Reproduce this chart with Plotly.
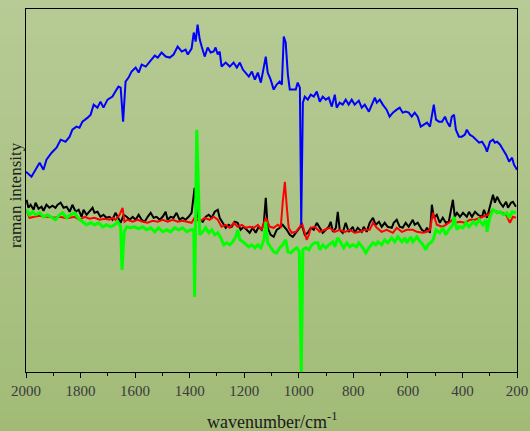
import plotly.graph_objects as go

# ---------------- data (wavenumber in cm^-1, intensity in a.u.) ----------------
blue_x = [2000,1980,1950,1936,1925,1906,1888,1873,1855,1840,1830,1815,1804,1793,1774,1763,1752,1738,1727,1716,
          1701,1683,1668,1661,1653,1644,1635,1624,1613,1598,1587,1576,1561,1550,1539,1528,1517,1503,1488,1473,
          1459,1444,1429,1415,1407,1393,1385,1378,1371,1363,1356,1345,1334,1323,1312,1305,1297,1290,1283,1268,
          1253,1239,1227,1216,1205,1194,1183,1172,1161,1150,1139,1132,1121,1114,1103,1092,1081,1070,1062,1055,
          1048,1040,1033,1022,1011,1004,996,991,985,978,967,956,945,934,923,912,901,890,879,868,861,850,839,828,
          817,806,795,780,769,758,743,732,721,714,703,692,678,667,655,641,630,619,608,597,586,575,564,553,541,
          530,519,512,505,497,486,475,464,457,446,439,431,424,413,402,391,384,373,361,350,339,328,317,310,299,
          288,281,273,262,251,240,229,218,211,204,200]
blue_y = [200,195,209,202,212,219,224,232,230,235,242,245,244,250,254,257,267,264,270,264,
          272,275,282,285,284,250,290,294,300,304,299,307,305,309,312,316,314,319,315,314,
          317,325,320,322,317,323,339,330,347,332,325,315,324,319,320,324,317,320,305,309,
          305,309,304,309,302,299,295,300,292,299,289,299,315,299,292,282,287,290,287,335,
          329,297,282,282,282,289,284,147,269,275,272,277,275,280,270,275,272,274,265,277,264,269,267,272,
          267,272,267,271,264,267,260,267,274,269,272,267,262,255,259,262,264,259,260,259,255,259,255,245,247,
          249,245,255,267,252,250,250,255,250,245,255,257,242,235,235,237,242,237,235,232,229,230,225,220,230,
          232,229,230,227,222,217,210,214,207,204,202]

black_x = [1998,1991,1983,1972,1965,1954,1943,1936,1925,1914,1903,1892,1884,1873,1862,1851,1840,1830,1818,1807,
           1796,1789,1778,1767,1756,1749,1738,1727,1716,1705,1694,1683,1672,1664,1653,1642,1631,1620,1609,1598,
           1587,1576,1565,1554,1543,1532,1521,1510,1499,1488,1481,1470,1459,1448,1437,1426,1415,1404,1393,1382,
           1374,1363,1352,1341,1330,1319,1308,1297,1290,1279,1268,1257,1246,1235,1224,1213,1202,1191,1180,1169,
           1158,1147,1136,1128,1121,1114,1103,1092,1081,1070,1059,1044,1033,1022,1011,1000,989,978,967,956,945,
           934,923,912,901,890,883,875,864,857,850,839,828,817,802,795,784,769,762,751,740,728,718,706,696,685,
           674,659,652,641,630,619,608,597,582,575,564,549,538,530,519,512,505,494,483,472,461,450,435,428,420,
           409,398,384,376,365,354,343,328,321,310,299,288,281,273,262,251,240,233,222,215,204]
black_y = [172,164,167,162,169,163,165,161,167,164,166,164,167,169,164,165,160,167,160,162,
           155,162,157,160,164,159,160,155,157,154,155,152,159,155,149,157,155,152,155,152,
           157,152,150,155,159,154,155,152,155,160,152,155,154,159,152,154,152,155,159,184,
           157,152,150,155,157,154,160,162,154,149,144,147,145,150,149,142,145,142,139,144,
           139,145,142,149,174,144,137,135,142,144,147,142,137,135,139,144,147,137,139,144,142,
           149,144,139,142,145,150,140,144,160,142,139,149,140,145,139,144,140,145,140,149,154,147,150,145,149,
           145,144,149,152,145,144,149,145,152,147,149,142,140,144,139,167,154,157,149,154,149,150,172,155,159,
           155,159,155,160,155,160,157,155,162,154,165,177,169,175,169,165,170,164,169,170,165]

red_x = [1998,1987,1969,1950,1932,1914,1895,1877,1859,1840,1822,1804,1785,1767,1749,1730,1712,1694,1683,1672,
         1657,1646,1639,1628,1609,1591,1572,1554,1536,1517,1499,1481,1462,1444,1426,1407,1393,1382,1363,1345,
         1327,1312,1297,1283,1268,1253,1239,1224,1209,1194,1180,1165,1150,1136,1121,1106,1092,1077,1066,1059,
         1051,1044,1037,1026,1011,996,989,978,971,963,956,941,923,905,886,868,850,831,813,795,776,758,740,728,
         714,696,678,655,641,622,604,582,567,545,530,519,508,494,475,461,446,435,428,409,391,373,354,336,321,
         306,288,273,255,240,226,215,204]
red_y = [162,154,155,156,155,155,154,155,154,154,155,152,155,153,154,152,153,152,154,152,
         157,164,150,152,150,152,150,149,151,150,152,150,152,150,151,150,149,154,150,154,
         152,155,152,145,147,144,149,145,147,144,145,144,147,142,154,145,144,147,145,169,
         190,165,144,139,140,145,149,139,132,137,144,145,140,142,144,140,142,140,142,139,140,142,142,149,
         144,140,142,139,144,140,142,142,140,139,140,142,159,147,145,147,150,152,149,150,149,152,152,154,155,
         157,162,160,159,157,149,155,154]

green_x = [1998,1987,1976,1965,1950,1936,1921,1906,1892,1877,1866,1851,1837,1822,1807,1793,1778,1763,1749,1734,
           1719,1705,1690,1675,1664,1653,1648,1640,1631,1617,1602,1587,1572,1558,1543,1528,1514,1499,1484,1470,
           1455,1440,1426,1411,1396,1385,1382,1374,1367,1363,1352,1341,1330,1319,1308,1297,1286,1275,1264,1253,
           1242,1231,1224,1216,1205,1194,1183,1172,1161,1150,1139,1128,1121,1114,1103,1092,1081,1070,1059,1048,
           1040,1029,1018,1007,998,991,985,974,963,952,941,930,923,912,901,890,875,868,857,842,835,824,813,802,
           788,780,765,754,743,728,718,710,696,685,674,659,648,637,622,611,604,589,582,567,560,545,534,527,512,
           505,497,483,472,461,450,435,431,420,413,398,387,376,361,350,339,325,314,310,299,288,273,262,251,237,
           229,218,204]
green_y = [162,157,160,157,159,155,157,154,152,157,159,154,157,159,153,150,147,149,147,149,
           145,147,145,147,150,145,102,140,145,144,145,143,145,142,144,140,144,140,142,140,
           144,142,144,140,142,142,75,242,179,137,140,144,139,142,137,139,134,127,129,127,
           130,135,142,132,130,127,125,127,124,127,124,132,150,129,124,120,119,124,127,132,
           120,119,122,124,120,0,122,124,122,127,129,129,122,127,124,127,130,125,134,127,124,129,125,127,
           125,129,124,119,124,129,127,130,127,132,129,134,130,135,130,134,129,135,130,135,132,127,122,127,130,
           134,142,139,144,137,142,147,155,142,145,144,149,145,150,147,152,147,152,140,155,162,159,160,157,159,
           154,160,159]

x_ticks = [2000, 1800, 1600, 1400, 1200, 1000, 800, 600, 400, 200]

# ---------------- figure ----------------
fig = go.Figure()
series = [
    (black_x, black_y, "#000000", 2),
    (red_x, red_y, "#ff0000", 2),
    (green_x, green_y, "#00ff00", 3),
    (blue_x, blue_y, "#0000ff", 2),
]
for xs, ys, col, w in series:
    fig.add_trace(go.Scatter(x=xs, y=ys, mode="lines",
                             line=dict(color=col, width=w), showlegend=False,
                             hoverinfo="skip"))

# vertical background gradient across the whole page
W, H = 530, 431
ml, mr, mt, mb = 26, 13, 9, 59
ph = H - mt - mb
top_c = (183, 203, 150)
bot_c = (161, 187, 119)
n = 48
y_top = 1 + mt / ph
y_bot = -mb / ph
shapes = []
for i in range(n):
    f0 = i / n
    f1 = (i + 1) / n
    fm = (f0 + f1) / 2
    c = tuple(round(top_c[k] + (bot_c[k] - top_c[k]) * fm) for k in range(3))
    shapes.append(dict(type="rect", xref="paper", yref="paper",
                       x0=-0.2, x1=1.2,
                       y0=y_top - (y_top - y_bot) * f1 - 0.002,
                       y1=y_top - (y_top - y_bot) * f0 + 0.002,
                       fillcolor="rgb(%d,%d,%d)" % c, line=dict(width=0),
                       layer="below"))

serif = "Liberation Serif, Times New Roman, serif"
fig.update_layout(
    width=W, height=H,
    margin=dict(l=ml, r=mr, t=mt, b=mb, autoexpand=False),
    paper_bgcolor="rgb(172,195,134)",
    plot_bgcolor="rgba(0,0,0,0)",
    shapes=shapes,
    xaxis=dict(range=[2000, 200], tickvals=x_ticks, ticktext=[str(v) for v in x_ticks],
               automargin=False,
               ticks="outside", ticklen=5, tickwidth=1, tickcolor="black",
               minor=dict(ticks="outside", ticklen=3, tickwidth=1, tickcolor="black", dtick=100, tick0=0),
               showline=True, linecolor="black", linewidth=1, mirror=True,
               showgrid=False, zeroline=False,
               tickfont=dict(family=serif, size=15, color="#3a3a3a")),
    yaxis=dict(range=[0, 362.5], showticklabels=False, ticks="", automargin=False,
               showline=True, linecolor="black", linewidth=1, mirror=True,
               showgrid=False, zeroline=False),
    annotations=[
        dict(text="wavenumber/cm<sup>-1</sup>", xref="paper", yref="paper",
             x=0.5, y=-(420 - 372) / ph, xanchor="center", yanchor="middle",
             showarrow=False, font=dict(family=serif, size=18, color="#1a1a1a")),
        dict(text="raman intensity", xref="paper", yref="paper",
             x=(16 - 26.5) / 491, y=0.486, xanchor="center", yanchor="middle",
             textangle=-90, showarrow=False,
             font=dict(family=serif, size=17, color="#1a1a1a")),
    ],
)

fig.write_html("out.html")
